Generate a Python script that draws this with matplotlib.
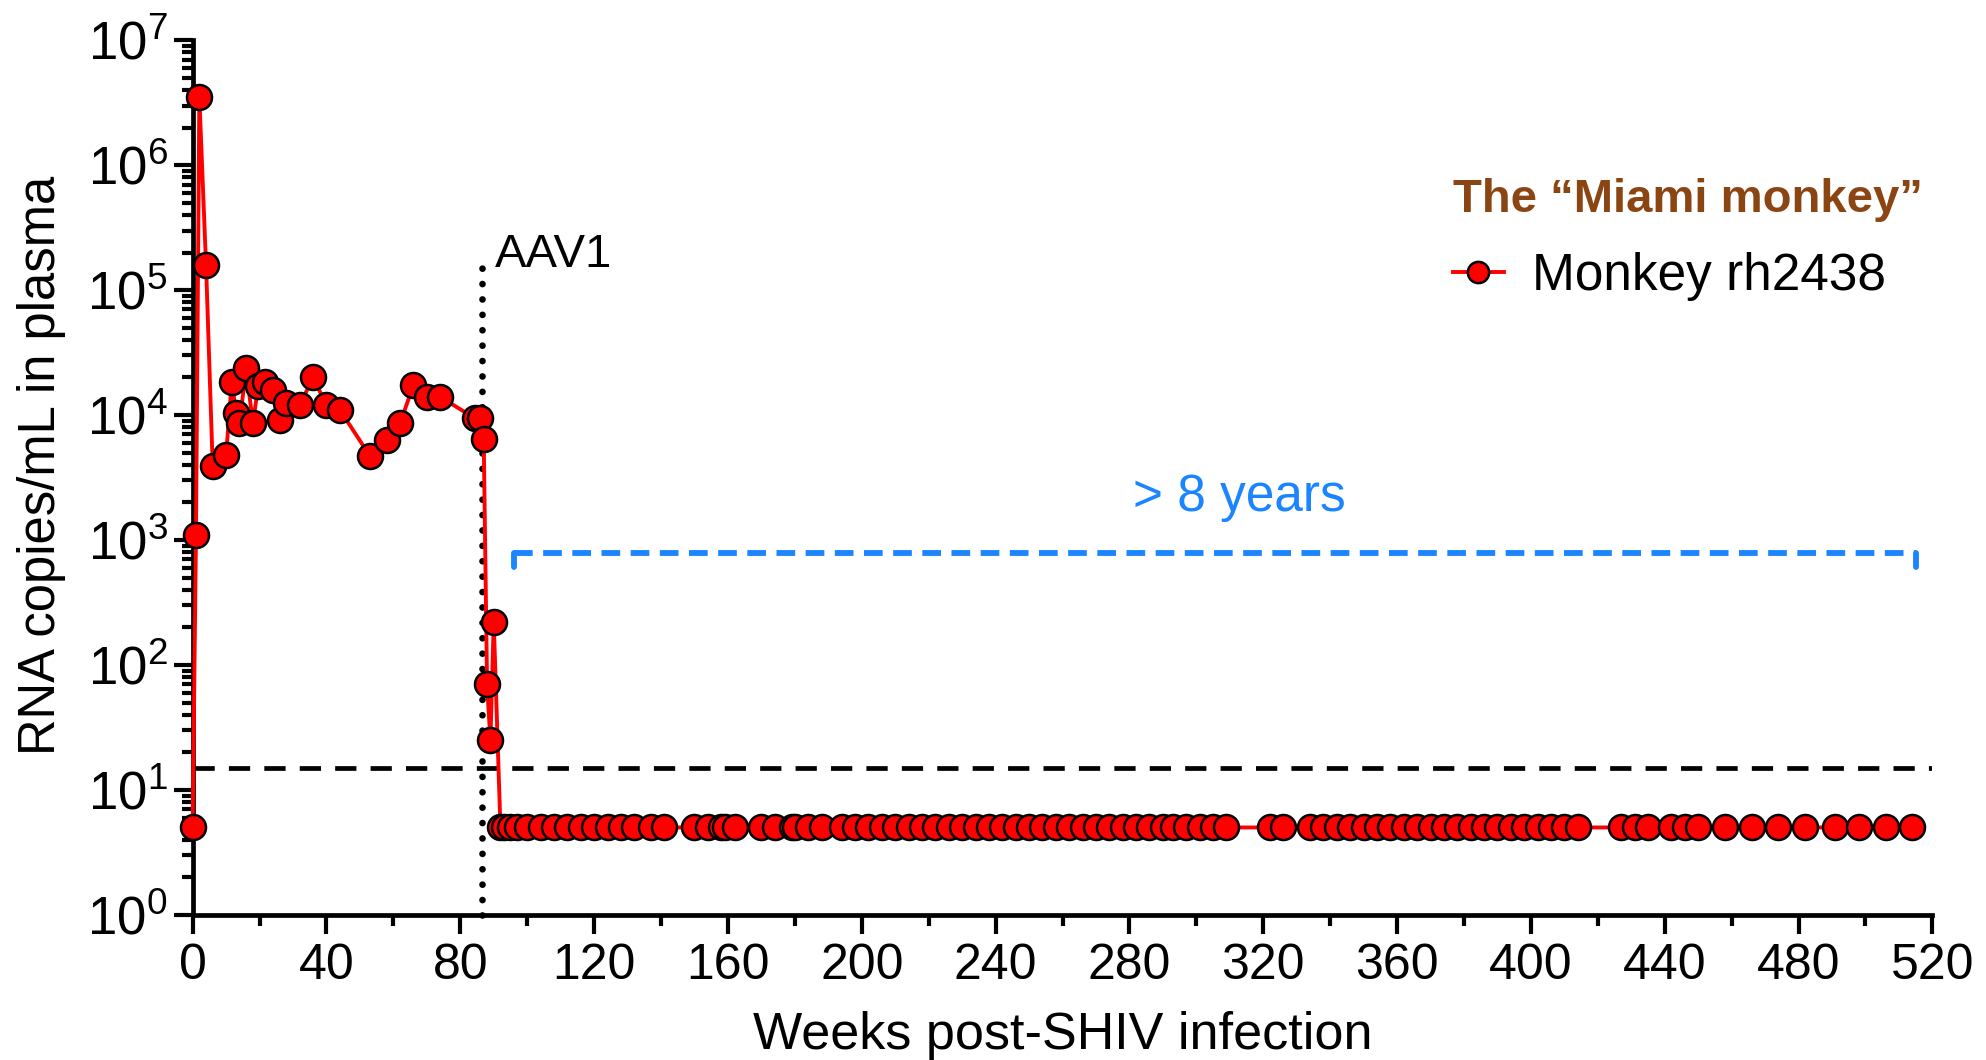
import matplotlib
matplotlib.use("Agg")
import matplotlib.pyplot as plt
from matplotlib.ticker import MultipleLocator, LogLocator, NullFormatter, FixedLocator
import numpy as np

plt.rcParams['font.family'] = ['Liberation Sans', 'DejaVu Sans']

# viremic phase (weeks, RNA copies/mL)
weeks_early = [0, 1, 2, 4, 6, 10, 11.7, 13, 14, 16, 18, 19.6, 21.6, 24, 26, 28,
               32, 36, 40, 44, 53, 58, 62, 66, 70, 74, 84.4, 86, 87, 88, 89, 90]
copies_early = [5, 1100, 3.5e6, 1.6e5, 3900, 4800, 1.85e4, 1.03e4, 8600, 2.36e4,
                8600, 1.7e4, 1.85e4, 1.6e4, 9100, 1.24e4, 1.2e4, 2.0e4, 1.2e4,
                1.1e4, 4700, 6300, 8600, 1.74e4, 1.4e4, 1.4e4, 9400, 9500, 6400,
                70, 25, 220]

# below detection limit after AAV1
weeks_supp = [92, 93, 95, 97, 100, 104, 108, 112, 116, 120, 124, 128, 132, 137, 141,
              150, 154, 158, 159, 162,
              170, 174, 179, 180, 184, 188, 194, 198, 202, 206, 210, 214, 218, 222,
              226, 230, 234, 238, 242, 246, 250, 254, 258, 262, 266, 270, 274, 278,
              282, 286, 290, 293, 297, 301, 305, 309,
              322, 326,
              334, 338, 342, 346, 350, 354, 358, 362, 366, 370, 374, 378, 382, 386,
              390, 394, 398, 402, 406, 410, 414,
              427, 431, 435,
              442, 446, 450, 458, 466, 474, 482, 491, 498, 506, 514]
copies_supp = [5] * len(weeks_supp)

weeks = weeks_early + weeks_supp
copies = copies_early + copies_supp

detection_limit = 15
aav1_week = 86.4
aav1_top = 1.9e5
bracket_start, bracket_end = 96, 515
bracket_level = 780

fig = plt.figure(figsize=(19.86, 10.6), dpi=100)
ax = fig.add_axes([0.097, 0.137, 0.876, 0.825])

ax.axhline(detection_limit, color='black', lw=3.4, ls=(0, (4.5, 3)), zorder=1)
ax.plot([aav1_week, aav1_week], [1, aav1_top], color='black', lw=4.8,
        ls=(0, (0.01, 2.3)), dash_capstyle='round', zorder=1, clip_on=False)
ax.text(aav1_week + 4, aav1_top * 1.0, 'AAV1', fontsize=34, ha='left', va='center')

ax.plot(weeks, copies, color='#ff0000', lw=2.8, marker='o', markersize=18,
        markerfacecolor='#ff0000', markeredgecolor='black', markeredgewidth=1.8,
        label='Monkey rh2438', zorder=3, clip_on=False)

# "> 8 years" bracket
blue = '#1a85ff'
ax.plot([bracket_start, bracket_end], [bracket_level, bracket_level], color=blue,
        lw=4.2, ls=(0, (3.2, 1.8)), zorder=2)
for xb in (bracket_start, bracket_end):
    ax.plot([xb, xb], [bracket_level, bracket_level * 0.78], color=blue, lw=4.2,
            solid_capstyle='round', zorder=2)
ax.text(313, 2200, '> 8 years', color=blue, fontsize=37, ha='center', va='center')

ax.set_yscale('log')
ax.set_ylim(1, 1e7)
ax.set_xlim(0, 520)

ax.xaxis.set_major_locator(MultipleLocator(40))
ax.xaxis.set_minor_locator(MultipleLocator(20))
ax.yaxis.set_major_locator(FixedLocator([10.0 ** k for k in range(8)]))
ax.set_yticklabels([r'$\mathregular{10^{%d}}$' % k for k in range(8)])
ax.yaxis.set_minor_locator(LogLocator(base=10, subs=np.arange(2, 10)))
ax.yaxis.set_minor_formatter(NullFormatter())

for s in ('top', 'right'):
    ax.spines[s].set_visible(False)
for s in ('left', 'bottom'):
    ax.spines[s].set_linewidth(3.4)

ax.tick_params(which='major', length=14, width=3, labelsize=36, pad=6)
ax.tick_params(which='minor', length=8, width=3)
ax.tick_params(axis='y', which='major', labelsize=38, pad=4)

ax.set_xlabel('Weeks post-SHIV infection', fontsize=37.5, labelpad=16)
ax.set_ylabel('RNA copies/mL in plasma', fontsize=36.5, va='center')
ax.yaxis.set_label_coords(-0.087, 0.514)

leg = ax.legend(loc='upper right', bbox_to_anchor=(1.012, 0.878), frameon=False,
                fontsize=37, title='The \u201cMiami monkey\u201d', handlelength=1.0,
                handletextpad=0.55, markerscale=0.85, borderaxespad=0.2,
                alignment='left')
leg.get_title().set_fontsize(34)
leg.get_title().set_fontweight('bold')
leg.get_title().set_color('#8b4513')
leg._legend_box.sep = 22

fig.savefig('out.png', dpi=100)
